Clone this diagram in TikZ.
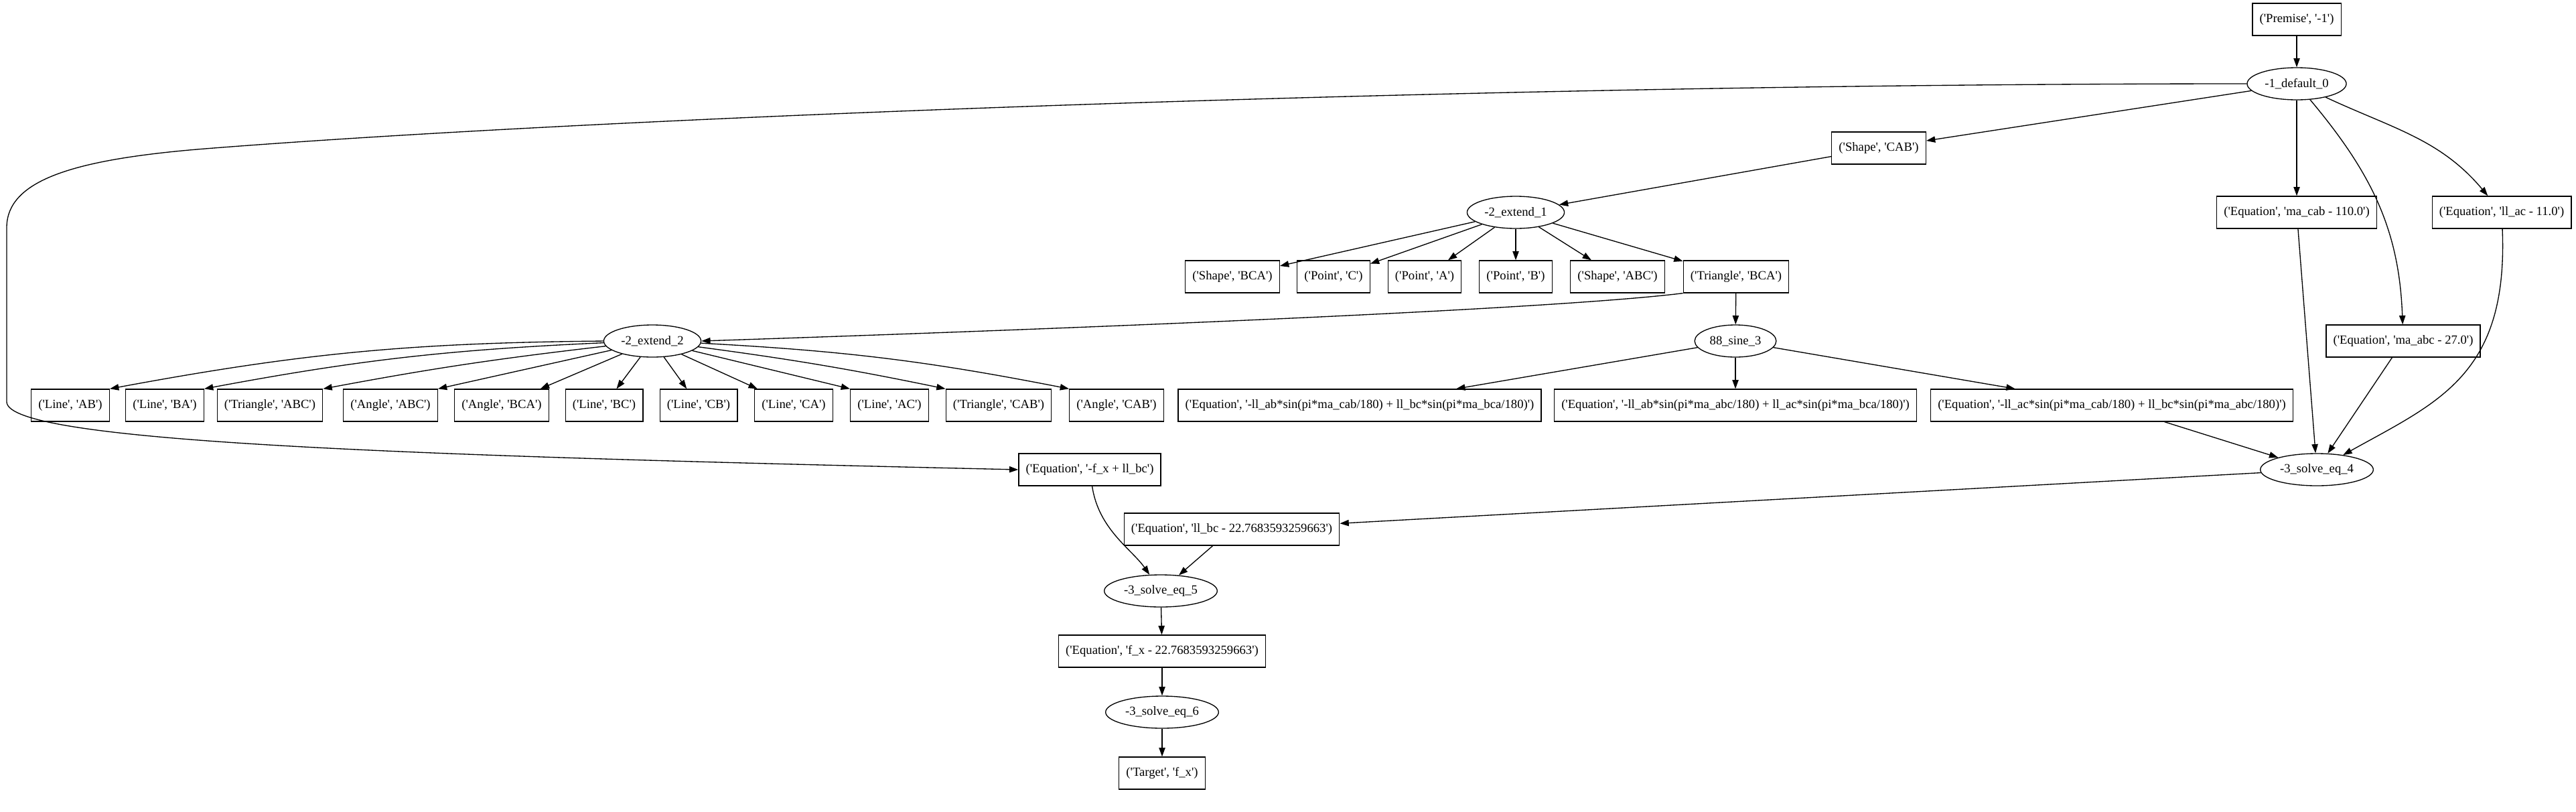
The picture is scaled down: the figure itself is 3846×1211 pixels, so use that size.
\documentclass[tikz,border=0pt]{standalone}
\usepackage{fontspec}
\setmainfont{Liberation Serif}[Ligatures=TeXOff]
\usetikzlibrary{shapes.geometric,arrows.meta}
\tikzset{
  factnode/.style={draw, rectangle, line width=1pt, minimum height=36pt, inner xsep=8pt, inner ysep=2pt},
  rulenode/.style={draw, ellipse, line width=1pt, minimum height=36pt, inner xsep=3.5pt, inner ysep=2pt},
  link/.style={-{Triangle[length=10pt,width=7pt]}, line width=1pt}
}

\begin{document}
\begin{tikzpicture}[x=0.75pt, y=-0.75pt, font=\fontsize{14}{16}\selectfont]
\path[fill=white] (0,0) rectangle (3846,1211);

\node[factnode] (prem) at (3429,29) {('Premise', '-1')};
\node[rulenode] (d0) at (3429,125) {-1\_default\_0};
\node[factnode] (shcab) at (2805,221) {('Shape', 'CAB')};
\node[factnode] (eqmacab) at (3429,317) {('Equation', 'ma\_cab - 110.0')};
\node[factnode] (eqllac) at (3735,317) {('Equation', 'll\_ac - 11.0')};
\node[rulenode] (e1) at (2263,317) {-2\_extend\_1};
\node[factnode] (shbca) at (1840,413) {('Shape', 'BCA')};
\node[factnode] (ptc) at (1991,413) {('Point', 'C')};
\node[factnode] (pta) at (2127,413) {('Point', 'A')};
\node[factnode] (ptb) at (2263,413) {('Point', 'B')};
\node[factnode] (shabc) at (2415,413) {('Shape', 'ABC')};
\node[factnode] (tribca) at (2592,413) {('Triangle', 'BCA')};
\node[rulenode] (e2) at (974,509) {-2\_extend\_2};
\node[rulenode] (sine) at (2591,509) {88\_sine\_3};
\node[factnode] (eqmaabc) at (3588,509) {('Equation', 'ma\_abc - 27.0')};
\node[factnode] (lnab) at (105,605) {('Line', 'AB')};
\node[factnode] (lnba) at (246,605) {('Line', 'BA')};
\node[factnode] (triabc) at (403,605) {('Triangle', 'ABC')};
\node[factnode] (angabc) at (583,605) {('Angle', 'ABC')};
\node[factnode] (angbca) at (749,605) {('Angle', 'BCA')};
\node[factnode] (lnbc) at (902,605) {('Line', 'BC')};
\node[factnode] (lncb) at (1043,605) {('Line', 'CB')};
\node[factnode] (lnca) at (1185,605) {('Line', 'CA')};
\node[factnode] (lnac) at (1328,605) {('Line', 'AC')};
\node[factnode] (tricab) at (1491,605) {('Triangle', 'CAB')};
\node[factnode] (angcab) at (1667,605) {('Angle', 'CAB')};
\node[factnode] (eqa) at (2030,605) {('Equation', '-ll\_ab*sin(pi*ma\_cab/180) + ll\_bc*sin(pi*ma\_bca/180)')};
\node[factnode] (eqb) at (2591,605) {('Equation', '-ll\_ab*sin(pi*ma\_abc/180) + ll\_ac*sin(pi*ma\_bca/180)')};
\node[factnode] (eqc) at (3153,605) {('Equation', '-ll\_ac*sin(pi*ma\_cab/180) + ll\_bc*sin(pi*ma\_abc/180)')};
\node[factnode] (eqfx) at (1627,701) {('Equation', '-f\_x + ll\_bc')};
\node[rulenode] (s4) at (3459,701) {-3\_solve\_eq\_4};
\node[factnode] (eqllbc) at (1839,790) {('Equation', 'll\_bc - 22.7683593259663')};
\node[rulenode] (s5) at (1733,882) {-3\_solve\_eq\_5};
\node[factnode] (eqfxv) at (1735,972) {('Equation', 'f\_x - 22.7683593259663')};
\node[rulenode] (s6) at (1735,1063) {-3\_solve\_eq\_6};
\node[factnode] (target) at (1735,1154) {('Target', 'f\_x')};

\draw[link] (prem) -- (d0);
\draw[link] (d0) -- (shcab);
\draw[link] (d0) -- (eqmacab);
\draw[link] (d0) to[out=-50,in=92] (eqmaabc);
\draw[link] (d0) to[out=-25,in=130] (eqllac);
\draw[link] (d0.west) .. controls (2200,125) and (900,175) .. (306,222) .. controls (106,238) and (10,270) .. (10,340) -- (10,600) .. controls (12,660) and (600,680) .. (eqfx.west);
\draw[link] (shcab) -- (e1);
\draw[link] (e1) -- (shbca);
\draw[link] (e1) -- (ptc);
\draw[link] (e1) -- (pta);
\draw[link] (e1) -- (ptb);
\draw[link] (e1) -- (shabc);
\draw[link] (e1) -- (tribca);
\draw[link] (tribca.south west) .. controls (2300,464) and (1500,494) .. (e2.east);
\draw[link] (tribca) -- (sine);
\draw[link] (e2) to[bend right=5] (lnab.north east);
\draw[link] (e2) to[bend right=4] (lnba.north east);
\draw[link] (e2) to[bend right=2] (triabc.north east);
\draw[link] (e2) -- (angabc.north east);
\draw[link] (e2) -- (angbca);
\draw[link] (e2) -- (lnbc);
\draw[link] (e2) -- (lncb);
\draw[link] (e2) -- (lnca);
\draw[link] (e2) -- (lnac.north west);
\draw[link] (e2) to[bend left=2] (tricab.north west);
\draw[link] (e2) to[bend left=4] (angcab.north west);
\draw[link] (sine) -- (eqa);
\draw[link] (sine) -- (eqb);
\draw[link] (sine) -- (eqc);
\draw[link] (eqc) -- (s4);
\draw[link] (eqmacab) -- (s4);
\draw[link] (eqmaabc) -- (s4);
\draw[link] (eqllac) .. controls (3745,560) and (3640,600) .. (s4);
\draw[link] (s4) -- (eqllbc);
\draw[link] (eqfx) .. controls (1640,790) and (1690,820) .. (s5);
\draw[link] (eqllbc) -- (s5);
\draw[link] (s5) -- (eqfxv);
\draw[link] (eqfxv) -- (s6);
\draw[link] (s6) -- (target);
\end{tikzpicture}
\end{document}
